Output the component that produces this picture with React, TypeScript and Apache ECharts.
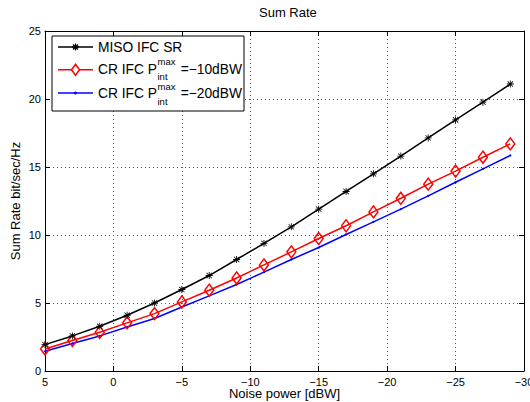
import React, { useEffect, useRef } from "react";
import * as echarts from "echarts";

const noisePower = [5, 3, 1, -1, -3, -5, -7, -9, -11, -13, -15, -17, -19, -21, -23, -25, -27, -29];
const misoSR = [1.94, 2.58, 3.29, 4.1, 5.0, 5.99, 7.02, 8.2, 9.38, 10.6, 11.9, 13.2, 14.5, 15.8, 17.14, 18.46, 19.77, 21.1];
const crIfc10 = [1.62, 2.24, 2.85, 3.54, 4.22, 5.08, 5.94, 6.84, 7.8, 8.76, 9.74, 10.68, 11.7, 12.7, 13.74, 14.7, 15.72, 16.7];
const crIfc20 = [1.45, 2.02, 2.58, 3.24, 3.86, 4.71, 5.52, 6.36, 7.27, 8.2, 9.08, 10.04, 10.97, 11.9, 12.88, 13.88, 14.86, 15.85];

const FONT = "'Liberation Sans', Arial, Helvetica, sans-serif";
const STAR =
  "path://M0,44L100,44L100,56L0,56ZM44,0L56,0L56,100L44,100ZM8,16L16,8L92,84L84,92ZM84,8L92,16L16,92L8,84Z";

const pairs = (ys: number[]) => noisePower.map((x, i) => [x, ys[i]]);
const minus = (v: number) => String(v).replace("-", "\u2212");

export default function App() {
  const ref = useRef<HTMLDivElement>(null);
  useEffect(() => {
    if (!ref.current) return;
    const chart = echarts.init(ref.current, null, { renderer: "svg" });
    const axisLine = { show: true, onZero: false, lineStyle: { color: "#000", width: 1 } };
    const tick = { show: true, inside: true, length: 5, lineStyle: { color: "#000" } };
    const split = { show: true, lineStyle: { color: "#555", type: [1, 3], width: 1 } };
    const legendRows = [
      { y: 47, color: "#000" },
      { y: 69.7, color: "#f00" },
      { y: 93, color: "#00f" },
    ];
    const txt = (text: string, x: number, y: number, size: number, align = "left") => ({
      type: "text",
      x,
      y,
      z: 110,
      style: { text, fontSize: size, fontFamily: FONT, fill: "#000", align, verticalAlign: "middle", lineHeight: size },
    });
    const graphics: any[] = [
      {
        type: "rect",
        z: 100,
        shape: { x: 52, y: 36, width: 192, height: 75 },
        style: { fill: "#fff", stroke: "#000", lineWidth: 1 },
      },
    ];
    legendRows.forEach((r) => {
      graphics.push({
        type: "line",
        z: 105,
        shape: { x1: 58, y1: r.y, x2: 93, y2: r.y },
        style: { stroke: r.color, lineWidth: 1.5 },
      });
    });
    const cx = 75.5;
    [[-3.5, 0, 3.5, 0], [0, -3.5, 0, 3.5], [-2.5, -2.5, 2.5, 2.5], [-2.5, 2.5, 2.5, -2.5]].forEach((s) =>
      graphics.push({
        type: "line",
        z: 106,
        shape: { x1: cx + s[0], y1: 47 + s[1], x2: cx + s[2], y2: 47 + s[3] },
        style: { stroke: "#000", lineWidth: 1.3 },
      })
    );
    graphics.push({
      type: "polygon",
      z: 106,
      shape: { points: [[cx, 69.7 - 5.5], [cx + 4, 69.7], [cx, 69.7 + 5.5], [cx - 4, 69.7]] },
      style: { fill: "#fff", stroke: "#f00", lineWidth: 1.5 },
    });
    graphics.push({ type: "circle", z: 106, shape: { cx, cy: 93, r: 1.5 }, style: { fill: "#00f" } });
    graphics.push(txt("MISO IFC SR", 98, 47, 13.8));
    graphics.push(txt("CR IFC P", 98, 69.7, 13.8));
    graphics.push(txt("max", 157.5, 61, 9.5));
    graphics.push(txt("int", 157.5, 76.5, 9.5));
    graphics.push(txt("=\u221210dBW", 242, 69.7, 13.8, "right"));
    graphics.push(txt("CR IFC P", 98, 93, 13.8));
    graphics.push(txt("max", 157.5, 86, 9.5));
    graphics.push(txt("int", 157.5, 101, 9.5));
    graphics.push(txt("=\u221220dBW", 242, 93, 13.8, "right"));

    chart.setOption({
      animation: false,
      backgroundColor: "#fff",
      textStyle: { fontFamily: FONT },
      title: {
        text: "Sum Rate",
        left: 259,
        top: 6,
        padding: 0,
        textStyle: { fontSize: 13, fontWeight: "normal", color: "#000", fontFamily: FONT },
      },
      grid: { left: 45, right: 6, top: 31, bottom: 31, containLabel: false, outerBoundsMode: "none" },
      xAxis: [
        {
          type: "value",
          inverse: true,
          min: -30,
          max: 5,
          interval: 5,
          position: "bottom",
          axisLine,
          axisTick: tick,
          splitLine: split,
          axisLabel: { color: "#000", fontSize: 11, margin: 5, fontFamily: FONT, formatter: minus },
          name: "Noise power [dBW]",
          nameLocation: "middle",
          nameGap: 16,
          nameMoveOverlap: false,
          nameTextStyle: { color: "#000", fontSize: 13, fontFamily: FONT },
        },
        {
          type: "value",
          inverse: true,
          min: -30,
          max: 5,
          interval: 5,
          position: "top",
          axisLine,
          axisTick: tick,
          splitLine: { show: false },
          axisLabel: { show: false },
        },
      ],
      yAxis: [
        {
          type: "value",
          min: 0,
          max: 25,
          interval: 5,
          position: "left",
          axisLine,
          axisTick: tick,
          splitLine: split,
          axisLabel: { color: "#000", fontSize: 11, margin: 4, fontFamily: FONT },
          name: "Sum Rate bit/sec/Hz",
          nameLocation: "middle",
          nameGap: 23,
          nameMoveOverlap: false,
          nameTextStyle: { color: "#000", fontSize: 13, fontFamily: FONT },
        },
        {
          type: "value",
          min: 0,
          max: 25,
          interval: 5,
          position: "right",
          axisLine,
          axisTick: tick,
          splitLine: { show: false },
          axisLabel: { show: false },
        },
      ],
      series: [
        {
          name: "MISO IFC SR",
          type: "line",
          data: pairs(misoSR),
          symbol: STAR,
          symbolSize: 7,
          showAllSymbol: true,
          lineStyle: { color: "#000", width: 1.5 },
          itemStyle: { color: "#000" },
          z: 3,
        },
        {
          name: "CR IFC -10",
          type: "line",
          data: pairs(crIfc10),
          symbol: "diamond",
          symbolSize: [9, 12],
          showAllSymbol: true,
          lineStyle: { color: "#f00", width: 1.5 },
          itemStyle: { color: "rgba(255,255,255,0)", borderColor: "#f00", borderWidth: 1.5 },
          z: 2,
        },
        {
          name: "CR IFC -20",
          type: "line",
          data: pairs(crIfc20),
          symbol: "circle",
          symbolSize: 2,
          showAllSymbol: true,
          lineStyle: { color: "#00f", width: 1.5 },
          itemStyle: { color: "#00f" },
          z: 1,
        },
      ],
      graphic: graphics,
    });
    return () => chart.dispose();
  }, []);
  return <div ref={ref} style={{ position: "fixed", left: 0, top: 0, width: 530, height: 402 }} />;
}
